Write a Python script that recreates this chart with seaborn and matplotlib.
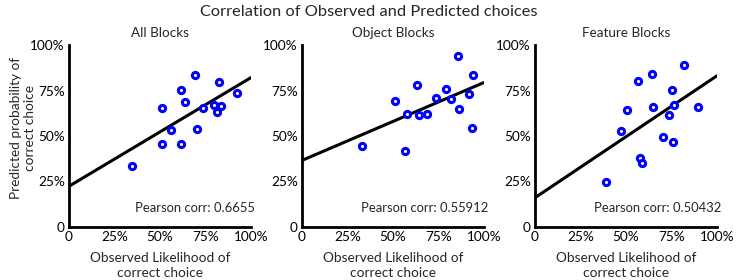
import numpy as np
import pandas as pd
import matplotlib
matplotlib.use("Agg")
import matplotlib.pyplot as plt
import seaborn as sns

# Panel titles and Pearson correlations
panels = ["All Blocks", "Object Blocks", "Feature Blocks"]
pearson = ["0.6655", "0.55912", "0.50432"]

# Observed likelihood (x, %) and predicted probability (y, %) per panel
all_x = [34.8, 50.9, 50.9, 56.2, 61.4, 61.4, 63.7, 69.0, 70.1, 73.8, 79.5, 81.3, 82.6, 83.5, 92.3]
all_y = [33.4, 65.6, 45.8, 53.5, 75.1, 45.4, 68.7, 83.3, 53.8, 65.6, 67.2, 63.2, 79.7, 66.5, 73.8]

obj_x = [32.7, 50.9, 56.4, 57.5, 63.4, 64.3, 68.9, 73.5, 79.3, 81.7, 85.6, 86.3, 91.6, 93.3, 94.2]
obj_y = [44.7, 69.2, 41.9, 62.3, 77.9, 61.4, 61.9, 70.7, 76.0, 70.1, 94.1, 64.8, 72.9, 54.6, 83.7]

feat_x = [39.0, 47.1, 50.5, 56.7, 57.5, 59.0, 64.5, 64.6, 70.3, 73.5, 75.5, 75.9, 76.4, 82.1, 89.5]
feat_y = [24.7, 52.9, 64.1, 80.0, 37.7, 35.2, 84.2, 65.8, 49.5, 61.7, 75.4, 46.9, 66.9, 89.2, 66.1]

# Fitted line: value at x=0 and at x=100
fit_start = [22.4, 36.6, 16.1]
fit_end = [82.1, 79.4, 83.1]

tick_vals = [0, 25, 50, 75, 100]
tick_labels = ["0", "25%", "50%", "75%", "100%"]

sns.set_theme(style="white")
plt.rcParams['font.family'] = ['Lato', 'DejaVu Sans']
plt.rcParams['font.weight'] = 'normal'

fig = plt.figure(figsize=(7.37, 2.8), dpi=100)

xs = [all_x, obj_x, feat_x]
ys = [all_y, obj_y, feat_y]
lefts = [69, 302, 535]

for i in range(3):
    ax = fig.add_axes([lefts[i] / 737, 1 - 227 / 280, 182 / 737, 182 / 280])
    df = pd.DataFrame({"obs": xs[i], "pred": ys[i]})
    line_df = pd.DataFrame({"obs": [0, 100], "pred": [fit_start[i], fit_end[i]]})

    sns.lineplot(data=line_df, x="obs", y="pred", ax=ax, color="black", linewidth=2.2, zorder=2)
    sns.scatterplot(data=df, x="obs", y="pred", ax=ax, marker="o", s=20,
                    facecolor="white", edgecolor="#0000ff", linewidth=2.2, zorder=3)

    ax.set_xlim(0, 100)
    ax.set_ylim(0, 100)
    ax.set_xticks(tick_vals)
    ax.set_yticks(tick_vals)
    ax.set_xticklabels(tick_labels)
    ax.set_yticklabels(tick_labels)
    ax.tick_params(direction="in", length=3, width=1, labelsize=9.8, pad=3, colors="black")
    ax.spines[['top', 'right']].set_visible(False)
    for s in ['left', 'bottom']:
        ax.spines[s].set_color("black")
        ax.spines[s].set_linewidth(2)
    ax.set_xlabel("Observed Likelihood of\ncorrect choice", fontsize=9.8, linespacing=1.3)
    ax.xaxis.set_label_coords(0.5, -0.135)
    ax.set_ylabel("")
    ax.set_title(panels[i], fontsize=9.7, pad=6)
    ax.text(102.2, 10.4, f"Pearson corr: {pearson[i]}", ha="right", va="center", fontsize=9.4)
    ax.patch.set_alpha(0)

# y label sits over the tick label column, as in the source figure
fig.text(23.5 / 737, 1 - 128 / 280, "Predicted probability of\ncorrect choice",
         rotation=90, ha="center", va="center", fontsize=9.8, linespacing=1.2)

fig.text(0.5, 0.957, "Correlation of Observed and Predicted choices", ha="center", va="center",
         fontsize=11.8, fontweight="normal")

fig.savefig("out.png", dpi=100)
